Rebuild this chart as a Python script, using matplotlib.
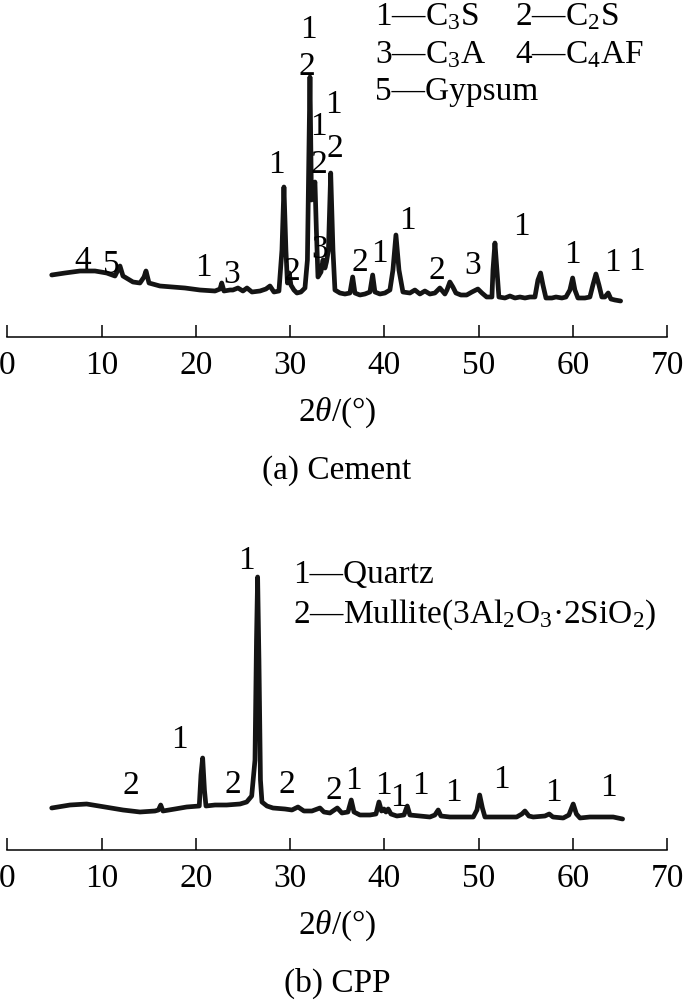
import matplotlib
matplotlib.use("Agg")
import matplotlib.pyplot as plt

plt.rcParams['font.family'] = ['Liberation Serif', 'DejaVu Serif']
plt.rcParams['mathtext.fontset'] = 'custom'
plt.rcParams['mathtext.rm'] = 'Liberation Serif'
plt.rcParams['mathtext.it'] = 'Liberation Serif:italic'

# (a) cement pattern, 2theta (deg) and intensity (a.u.)
cem_2theta = [4.71, 6.12, 7.71, 9.30, 10.54, 11.42, 11.74, 11.95, 12.27, 13.33,
              14.07, 14.50, 14.71, 15.03, 16.19, 17.57, 18.84, 20.43, 22.03, 22.56,
              22.74, 22.98, 23.62, 23.93, 24.46, 24.99, 25.42, 25.95, 26.80, 27.43,
              27.86, 28.28, 28.81, 29.13, 29.34, 29.55, 29.71, 29.90, 30.08, 30.40,
              30.72, 31.14, 31.57, 31.83, 32.10, 32.26, 32.42, 32.63, 32.78, 32.95,
              33.27, 33.48, 33.69, 33.85, 34.06, 34.30, 34.54, 34.75, 35.28, 35.81,
              36.34, 36.63, 36.87, 37.40, 37.93, 38.46, 38.75, 38.99, 39.52, 40.05,
              40.58, 40.90, 41.22, 41.54, 41.96, 42.70, 43.23, 43.76, 44.29, 44.82,
              45.35, 45.88, 46.41, 46.63, 46.94, 47.26, 47.58, 48.11, 48.72, 49.28,
              49.91, 50.34, 50.84, 51.40, 51.51, 51.72, 51.93, 52.14, 52.78, 53.31,
              53.84, 54.37, 54.90, 55.43, 55.96, 56.28, 56.56, 56.81, 57.13, 57.76,
              58.19, 58.82, 59.25, 59.67, 59.96, 60.20, 60.52, 61.26, 61.79, 62.11,
              62.43, 62.75, 63.06, 63.38, 63.73, 64.02, 64.44, 65.05]
cem_int = [62, 64, 66, 66, 64, 61, 67, 71, 61, 55,
           54, 60, 66, 54, 51, 50, 49, 47, 46, 48,
           54, 46, 47, 47, 49, 46, 49, 45, 46, 48,
           51, 45, 46, 87, 150, 87, 54, 64, 52, 47,
           44, 45, 49, 77, 260, 137, 147, 155, 107, 60,
           65, 77, 69, 75, 87, 164, 87, 47, 44, 43,
           44, 60, 44, 42, 43, 45, 62, 45, 43, 44,
           47, 67, 102, 67, 45, 44, 47, 43, 46, 43,
           44, 49, 43, 47, 55, 50, 44, 42, 42, 45,
           48, 44, 40, 40, 67, 94, 67, 40, 39, 41,
           39, 40, 39, 40, 40, 57, 64, 52, 39, 39,
           40, 39, 40, 47, 59, 47, 39, 39, 40, 52,
           63, 52, 40, 40, 44, 38, 37, 36]

cem_lbl_text = ['4', '5', '1', '3', '1', '2', '1', '2', '1', '1', '2', '2', '3',
                '2', '1', '1', '2', '3', '1', '1', '1', '1']
cem_lbl_2theta = [8.03, 11.0, 20.75, 23.83, 28.5, 30.19, 31.89, 31.78, 34.54, 32.95,
                  33.05, 34.75, 33.16, 37.4, 39.52, 42.49, 45.56, 49.38, 54.58,
                  59.99, 64.23, 66.77]
cem_lbl_int = [68, 64, 61, 54, 164, 57, 299, 262, 224, 202, 164, 180, 79,
               66, 75, 108, 58, 63, 102, 74, 66, 67]

cem_legend = [['1—C$_\\mathrm{3}$S', '2—C$_\\mathrm{2}$S'],
              ['3—C$_\\mathrm{3}$A', '4—C$_\\mathrm{4}$AF'],
              ['5—Gypsum']]

# (b) CPP pattern
cpp_2theta = [4.71, 6.65, 8.42, 10.36, 12.27, 14.07, 15.66, 16.03, 16.27, 16.51,
              17.78, 19.02, 20.36, 20.54, 20.72, 20.91, 21.07, 22.03, 23.27, 24.68,
              25.39, 25.92, 26.27, 26.43, 26.55, 26.69, 26.85, 27.01, 27.54, 28.18,
              29.45, 30.19, 30.83, 31.46, 32.31, 33.16, 33.58, 34.22, 35.00, 35.49,
              36.13, 36.48, 36.77, 37.40, 38.46, 39.10, 39.42, 39.69, 39.95, 40.16,
              40.40, 40.69, 41.32, 42.07, 42.42, 42.70, 43.76, 44.82, 45.35, 45.70,
              45.99, 46.94, 48.00, 49.42, 49.81, 50.10, 50.39, 50.66, 52.25, 54.02,
              54.58, 54.90, 55.32, 55.78, 57.02, 57.48, 57.87, 58.96, 59.56, 60.02,
              60.36, 60.74, 61.79, 62.85, 64.26, 65.26]
cpp_int = [42, 45, 46, 43, 40, 38, 39, 40, 45, 39,
           41, 43, 44, 75, 92, 60, 44, 45, 45, 46,
           48, 54, 90, 210, 273, 190, 70, 48, 44, 42,
           41, 40, 43, 39, 39, 42, 38, 37, 42, 37,
           38, 50, 38, 35, 35, 36, 48, 39, 41, 38,
           41, 36, 34, 35, 44, 35, 34, 33, 35, 40,
           34, 33, 33, 33, 40, 55, 42, 33, 33, 33,
           36, 39, 34, 33, 34, 36, 33, 32, 35, 46,
           36, 32, 33, 33, 33, 31]

cpp_lbl_text = ['2', '1', '2', '1', '2', '2', '1', '1', '1', '1', '1', '1', '1', '1']
cpp_lbl_2theta = [13.09, 18.21, 23.9, 25.39, 29.66, 34.65, 36.66, 39.85, 41.5,
                  43.84, 47.37, 52.43, 57.97, 63.73]
cpp_lbl_int = [56, 102, 57, 281, 57, 51, 61, 56, 44, 56, 49, 62, 49, 54]

cpp_legend = ['1—Quartz',
              '2—Mullite(3Al$_\\mathrm{2}$O$_\\mathrm{3}$·2SiO$_\\mathrm{2}$)']

xticks = [0, 10, 20, 30, 40, 50, 60, 70]
FS = 24
W, H = 684, 1001


def style_axis(ax, ytop):
    ax.set_xlim(0, 70)
    ax.set_ylim(0, ytop)
    for s in ['top', 'left', 'right']:
        ax.spines[s].set_visible(False)
    ax.spines['bottom'].set_linewidth(1.1)
    ax.set_yticks([])
    ax.set_xticks(xticks)
    ax.tick_params(axis='x', direction='in', length=9, width=1.1,
                   labelsize=FS, pad=10)
    ax.set_xlabel('2$\\theta$/(°)', fontsize=FS, labelpad=10)


def draw_panel(ax, x, y, lbl_text, lbl_x, lbl_y):
    ax.plot(x, y, color='#141414', lw=3.4, solid_joinstyle='round',
            solid_capstyle='round')
    for t, lx, ly in zip(lbl_text, lbl_x, lbl_y):
        ax.text(lx, ly, t, fontsize=FS, ha='center', va='baseline')


fig = plt.figure(figsize=(W / 100, H / 100), dpi=100)

ax1 = fig.add_axes([7.3 / W, 1 - 337 / H, 660 / W, 337 / H])
ax1.patch.set_alpha(0)
style_axis(ax1, 337)
draw_panel(ax1, cem_2theta, cem_int, cem_lbl_text, cem_lbl_2theta, cem_lbl_int)

ax2 = fig.add_axes([7.3 / W, 1 - 850 / H, 660 / W, 330 / H])
ax2.patch.set_alpha(0)
style_axis(ax2, 330)
draw_panel(ax2, cpp_2theta, cpp_int, cpp_lbl_text, cpp_lbl_2theta, cpp_lbl_int)

# legends as text blocks
col_x = [375, 515]
row_y = [25, 63, 100]
for r, row in enumerate(cem_legend):
    for c, t in enumerate(row):
        fig.text(col_x[c] / W, 1 - row_y[r] / H, t, fontsize=FS,
                 ha='left', va='baseline')

for i, t in enumerate(cpp_legend):
    fig.text(293 / W, 1 - (583 + 40 * i) / H, t, fontsize=FS,
             ha='left', va='baseline')

fig.text(337 / W, 1 - 471 / H, '(a) Cement', fontsize=FS, ha='center', va='center')
fig.text(337 / W, 1 - 983 / H, '(b) CPP', fontsize=FS, ha='center', va='center')

fig.savefig('out.png', dpi=100)
